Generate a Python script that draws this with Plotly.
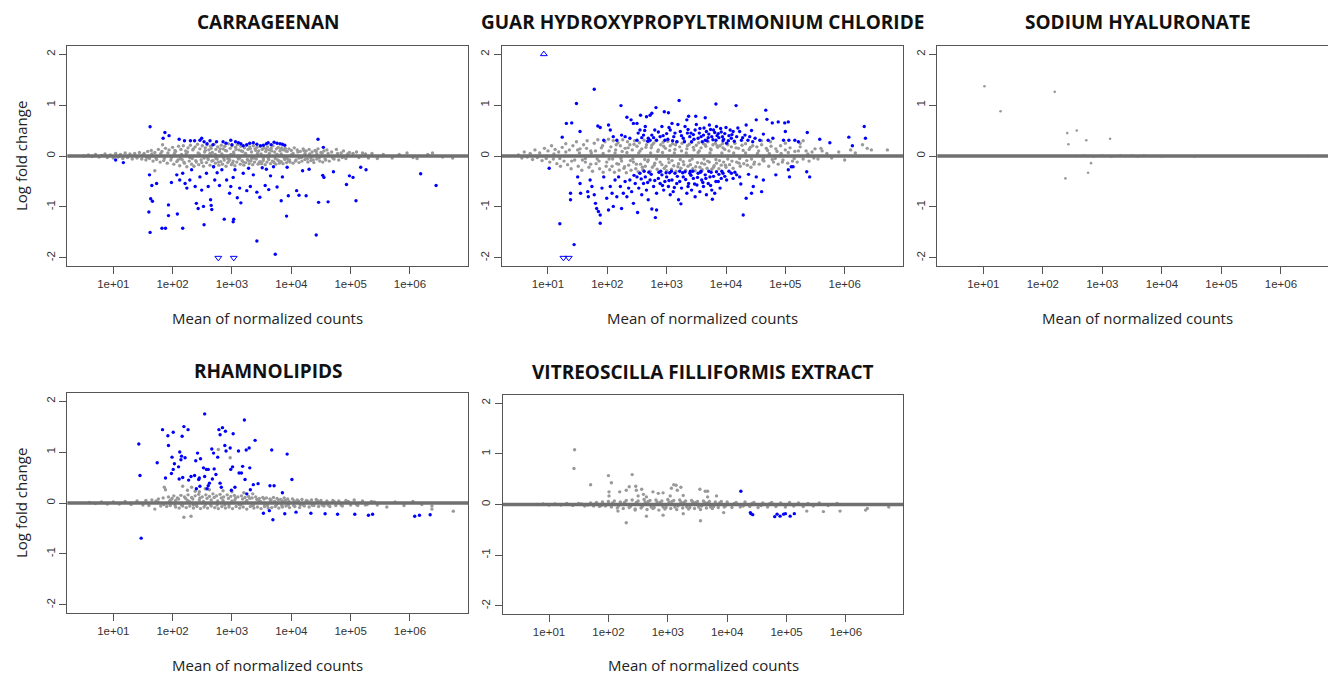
import plotly.graph_objects as go

# ---------------- DATA (log10 of mean of normalized counts, log fold change) ----------------
panel_titles = ["CARRAGEENAN", "GUAR HYDROXYPROPYLTRIMONIUM CHLORIDE", "SODIUM HYALURONATE",
                "RHAMNOLIPIDS", "VITREOSCILLA FILLIFORMIS EXTRACT"]
x_tick_values = [1e1, 1e2, 1e3, 1e4, 1e5, 1e6]
x_tick_labels = ["1e+01", "1e+02", "1e+03", "1e+04", "1e+05", "1e+06"]
y_tick_values = [-2, -1, 0, 1, 2]
y_tick_labels = ["-2", "-1", "0", "1", "2"]
x_axis_title = "Mean of normalized counts"
y_axis_title = "Log fold change"

carrageenan_gray = [
    (0.50, 0.00), (0.58, 0.02), (0.64, -0.01), (0.70, 0.03), (0.76, -0.02), (0.80, 0.01), (0.86, 0.04), (0.90, -0.03),
    (0.95, 0.02), (1.00, -0.04), (1.04, 0.05), (1.08, -0.02), (1.12, 0.03), (1.16, -0.05), (1.20, 0.06), (1.24, -0.03),
    (1.28, 0.04), (1.32, -0.06), (1.36, 0.05), (1.40, -0.04), (1.44, 0.07), (1.48, -0.06), (1.52, 0.05), (1.55, -0.08),
    (1.58, 0.09), (1.61, -0.05), (1.64, 0.11), (1.67, -0.10), (1.70, 0.07), (1.70, -0.29), (1.73, -0.07), (1.76, 0.13),
    (1.79, -0.12), (1.82, 0.09), (1.83, 0.22), (1.85, -0.09), (1.88, 0.15), (1.91, -0.14), (1.94, 0.12), (1.97, -0.08),
    (2.00, 0.17), (2.02, -0.16), (2.05, 0.09), (2.07, -0.11), (2.10, 0.19), (2.12, -0.19), (2.14, 0.13), (2.16, -0.07),
    (2.18, 0.20), (2.20, -0.14), (2.22, 0.10), (2.24, -0.21), (2.26, 0.16), (2.28, -0.10), (2.30, 0.21), (2.32, -0.16),
    (2.34, 0.12), (2.36, -0.20), (2.38, 0.18), (2.40, -0.12), (2.42, 0.23), (2.44, -0.17), (2.46, 0.14), (2.48, -0.08),
    (2.50, 0.20), (2.52, -0.20), (2.54, 0.08), (2.55, 0.16), (2.57, -0.13), (2.58, 0.22), (2.60, -0.07), (2.61, 0.12),
    (2.63, -0.18), (2.64, 0.19), (2.66, -0.10), (2.67, 0.07), (2.69, -0.21), (2.70, 0.23), (2.72, -0.14), (2.73, 0.13),
    (2.75, -0.06), (2.76, 0.18), (2.78, -0.18), (2.79, 0.09), (2.81, -0.11), (2.82, 0.21), (2.84, -0.16), (2.85, 0.14),
    (2.87, -0.08), (2.88, 0.19), (2.90, -0.20), (2.91, 0.10), (2.93, -0.13), (2.94, 0.24), (2.96, -0.07), (2.97, 0.15),
    (2.99, -0.17), (3.00, 0.20), (3.02, -0.10), (3.03, 0.08), (3.05, -0.19), (3.06, 0.17), (3.08, -0.12), (3.09, 0.22),
    (3.11, -0.06), (3.12, 0.12), (3.14, -0.16), (3.15, 0.19), (3.17, -0.09), (3.18, 0.09), (3.20, -0.18), (3.21, 0.16),
    (3.23, -0.13), (3.24, 0.21), (3.26, -0.07), (3.27, 0.13), (3.29, -0.15), (3.30, 0.18), (3.32, -0.10), (3.33, 0.08),
    (3.35, -0.17), (3.36, 0.20), (3.38, -0.12), (3.39, 0.14), (3.41, -0.06), (3.42, 0.17), (3.44, -0.16), (3.45, 0.10),
    (3.47, -0.11), (3.48, 0.19), (3.50, -0.15), (3.51, 0.13), (3.53, -0.08), (3.54, 0.16), (3.56, -0.17), (3.57, 0.09),
    (3.59, -0.12), (3.60, 0.18), (3.62, -0.07), (3.63, 0.12), (3.65, -0.15), (3.66, 0.15), (3.68, -0.10), (3.69, 0.20),
    (3.71, -0.13), (3.72, 0.08), (3.74, -0.16), (3.75, 0.14), (3.77, -0.08), (3.78, 0.17), (3.80, -0.14), (3.81, 0.10),
    (3.83, -0.11), (3.84, 0.16), (3.86, -0.15), (3.87, 0.12), (3.89, -0.07), (3.90, 0.15), (3.92, -0.13), (3.93, 0.09),
    (3.95, -0.10), (3.96, 0.14), (3.98, -0.12), (4.00, 0.11), (4.03, -0.14), (4.05, 0.16), (4.08, -0.08), (4.10, 0.12),
    (4.13, -0.13), (4.15, 0.09), (4.18, -0.10), (4.20, 0.14), (4.23, -0.07), (4.25, 0.10), (4.28, -0.12), (4.30, 0.13),
    (4.33, -0.09), (4.35, 0.08), (4.38, -0.13), (4.40, 0.11), (4.43, -0.06), (4.45, 0.14), (4.48, -0.10), (4.50, 0.07),
    (4.53, -0.12), (4.55, 0.10), (4.58, -0.08), (4.60, 0.12), (4.64, -0.10), (4.68, 0.08), (4.72, -0.06), (4.76, 0.13),
    (4.80, -0.08), (4.84, 0.06), (4.88, 0.10), (4.92, -0.05), (4.98, 0.07), (5.04, 0.05), (5.10, 0.08), (5.14, -0.03),
    (5.20, 0.06), (5.25, 0.04), (5.30, -0.04), (5.36, 0.05), (5.45, -0.05), (5.55, 0.03), (5.70, -0.04), (5.82, 0.03),
    (5.95, 0.06), (6.05, -0.03), (6.12, -0.05), (6.30, 0.03), (6.38, 0.06), (6.55, -0.02), (6.72, -0.04),
    (2.03, 0.05), (2.13, -0.05), (2.23, 0.05), (2.33, -0.05), (2.43, 0.06), (2.53, -0.04), (2.63, 0.05), (2.73, -0.05),
    (2.83, 0.04), (2.93, -0.05), (3.03, 0.05), (3.13, -0.04), (3.23, 0.05), (3.33, -0.05), (3.43, 0.05), (3.53, -0.04),
    (3.63, 0.05), (3.73, -0.05), (3.83, 0.04), (3.93, -0.05), (4.03, 0.05), (4.13, -0.04), (4.23, 0.05), (4.33, -0.04),
    (4.43, 0.04),
]
carrageenan_gray_band = [
    (1.92, 0.06), (1.98, -0.03), (2.04, 0.11), (2.09, -0.08), (2.15, 0.03), (2.19, -0.12), (2.25, 0.08), (2.29, -0.03),
    (2.35, 0.14), (2.39, -0.09), (2.45, 0.04), (2.49, -0.13), (2.55, 0.11), (2.59, -0.03), (2.65, 0.15), (2.68, -0.09),
    (2.72, 0.03), (2.77, -0.12), (2.80, 0.14), (2.86, -0.04), (2.89, 0.11), (2.95, -0.10), (2.98, 0.03), (3.01, -0.14),
    (3.07, 0.13), (3.10, -0.03), (3.16, 0.10), (3.19, -0.12), (3.22, 0.03), (3.28, -0.09), (3.31, 0.14), (3.37, -0.04),
    (3.40, 0.11), (3.46, -0.13), (3.49, 0.04), (3.52, -0.10), (3.58, 0.13), (3.61, -0.03), (3.67, 0.10), (3.70, -0.11),
    (3.76, 0.03), (3.79, -0.09), (3.82, 0.13), (3.88, -0.04), (3.91, 0.10), (3.97, -0.08), (4.01, 0.03), (4.07, -0.10),
    (4.11, 0.08), (4.17, -0.03), (4.21, 0.11), (4.27, -0.06), (4.31, 0.04), (4.37, -0.08), (4.42, 0.09), (4.47, -0.04),
    (4.52, 0.06), (4.57, -0.06), (4.62, 0.05), (4.70, -0.04), (4.78, 0.05), (4.86, -0.03), (4.95, 0.04), (1.50, 0.02),
    (1.57, -0.03), (1.65, 0.04), (1.72, -0.04), (1.80, 0.05), (1.86, -0.05),
]
carrageenan_blue = [
    (1.62, 0.575), (1.87, 0.46), (1.84, 0.35), (1.94, 0.40), (2.11, 0.33), (2.20, 0.30), (2.30, 0.30), (2.37, 0.30),
    (2.46, 0.31), (2.49, 0.35), (2.53, 0.28), (2.63, 0.30), (2.74, 0.28), (2.85, 0.28), (2.98, 0.31), (3.06, 0.28),
    (3.11, 0.26), (3.19, 0.20), (3.30, 0.25), (3.42, 0.23), (3.53, 0.21), (3.61, 0.26), (3.71, 0.27), (3.81, 0.24),
    (3.89, 0.21), (4.45, 0.33), (4.54, 0.17), (2.58, 0.24), (2.68, 0.22), (2.90, 0.25), (3.00, 0.22), (3.15, 0.24),
    (3.25, 0.22), (3.36, 0.26), (3.48, 0.20), (3.58, 0.24), (3.66, 0.22), (3.76, 0.25), (3.85, 0.23),
    (1.61, -0.37), (1.65, -0.58), (1.73, -0.54), (1.63, -0.84), (1.66, -0.89), (1.60, -1.10), (1.62, -1.50), (1.82, -1.42),
    (1.88, -1.42), (2.17, -1.42), (1.93, -0.96), (1.93, -1.17), (2.08, -1.14), (1.04, -0.08), (1.17, -0.13), (1.98, -0.52),
    (2.07, -0.37), (2.12, -0.47), (2.17, -0.34), (2.21, -0.54), (2.24, -0.63), (2.29, -0.47), (2.32, -0.27), (2.38, -0.60),
    (2.40, -0.93), (2.43, -1.03), (2.46, -0.41), (2.49, -0.67), (2.52, -0.99), (2.53, -1.35), (2.57, -0.34), (2.60, -0.60),
    (2.64, -0.86), (2.65, -0.97), (2.66, -1.05), (2.69, -0.21), (2.71, -0.47), (2.75, -0.33), (2.79, -0.58), (2.83, -0.27),
    (2.87, -1.24), (2.91, -0.47), (2.96, -0.73), (2.98, -0.60), (3.02, -0.42), (3.03, -1.24), (3.02, -1.29), (3.05, -0.27),
    (3.09, -0.82), (3.13, -0.63), (3.15, -0.92), (3.19, -0.34), (3.25, -0.68), (3.28, -0.24), (3.31, -0.60), (3.36, -0.37),
    (3.42, -0.71), (3.42, -1.67), (3.47, -0.81), (3.51, -0.23), (3.56, -0.58), (3.58, -0.26), (3.62, -0.66), (3.65, -0.39),
    (3.70, -0.21), (3.73, -1.93), (3.76, -0.61), (3.83, -0.88), (3.85, -0.41), (3.92, -1.18), (3.95, -0.78), (3.93, -0.22),
    (4.09, -0.68), (4.13, -0.77), (4.25, -0.78), (4.19, -0.29), (4.42, -1.55), (4.46, -0.91), (4.53, -0.38), (4.62, -0.90),
    (4.71, -0.31), (4.93, -0.56), (4.98, -0.39), (5.04, -0.42), (5.09, -0.88), (5.17, -0.22), (5.26, -0.27), (6.18, -0.35),
    (6.44, -0.58), (4.55, -0.42), (4.30, -0.26),
]
carrageenan_up = []
carrageenan_down = [(2.77, -2.0), (3.03, -2.0)]

guar_gray = [
    (0.50, 0.02), (0.56, -0.04), (0.60, 0.08), (0.65, -0.02), (0.70, 0.05), (0.74, -0.07), (0.78, 0.12), (0.82, -0.03),
    (0.86, 0.06), (0.90, -0.09), (0.94, 0.15), (0.97, -0.05), (1.00, 0.10), (1.03, -0.12), (1.06, 0.20), (1.09, -0.06),
    (1.12, 0.13), (1.15, -0.15), (1.18, 0.08), (1.21, -0.20), (1.24, 0.17), (1.27, -0.10), (1.30, 0.24), (1.33, -0.17),
    (1.36, 0.12), (1.39, -0.25), (1.42, 0.20), (1.45, -0.08), (1.48, 0.28), (1.51, -0.20), (1.54, 0.14), (1.57, -0.28),
    (1.60, 0.22), (1.63, -0.12), (1.66, 0.30), (1.69, -0.22), (1.72, 0.10), (1.75, -0.30), (1.78, 0.25), (1.81, -0.15),
    (1.84, 0.32), (1.87, -0.25), (1.90, 0.16), (1.93, -0.32), (1.96, 0.28), (1.99, -0.12),
    (2.02, 0.33), (2.04, -0.27), (2.06, 0.18), (2.08, -0.20), (2.10, 0.30), (2.12, -0.32), (2.14, 0.12), (2.16, -0.15),
    (2.18, 0.26), (2.20, -0.28), (2.22, 0.20), (2.24, -0.10), (2.26, 0.32), (2.28, -0.24), (2.30, 0.15), (2.32, -0.33),
    (2.34, 0.28), (2.36, -0.18), (2.38, 0.22), (2.40, -0.28), (2.42, 0.12), (2.44, -0.12), (2.46, 0.30), (2.48, -0.25),
    (2.50, 0.19), (2.52, -0.31), (2.54, 0.26), (2.56, -0.16), (2.58, 0.14), (2.60, -0.27), (2.62, 0.31), (2.64, -0.20),
    (2.66, 0.22), (2.68, -0.11), (2.70, 0.28), (2.72, -0.30), (2.74, 0.16), (2.76, -0.22), (2.78, 0.25), (2.80, -0.14),
    (2.82, 0.30), (2.84, -0.26), (2.86, 0.12), (2.88, -0.32), (2.90, 0.22), (2.92, -0.17), (2.94, 0.27), (2.96, -0.24),
    (2.98, 0.15), (3.00, -0.29), (3.02, 0.29), (3.04, -0.13), (3.06, 0.20), (3.08, -0.26), (3.10, 0.24), (3.12, -0.19),
    (3.14, 0.13), (3.16, -0.30), (3.18, 0.28), (3.20, -0.15), (3.22, 0.18), (3.24, -0.24), (3.26, 0.25), (3.28, -0.11),
    (3.30, 0.30), (3.32, -0.28), (3.34, 0.14), (3.36, -0.20), (3.38, 0.23), (3.40, -0.17), (3.42, 0.27), (3.44, -0.25),
    (3.46, 0.12), (3.48, -0.29), (3.50, 0.21), (3.52, -0.13), (3.54, 0.26), (3.56, -0.22), (3.58, 0.16), (3.60, -0.27),
    (3.62, 0.24), (3.64, -0.16), (3.66, 0.19), (3.68, -0.24), (3.70, 0.28), (3.72, -0.12), (3.74, 0.14), (3.76, -0.26),
    (3.78, 0.22), (3.80, -0.19), (3.82, 0.25), (3.84, -0.14), (3.86, 0.17), (3.88, -0.25), (3.90, 0.20), (3.92, -0.18),
    (3.94, 0.24), (3.96, -0.12), (3.98, 0.13), (4.00, -0.22), (4.03, 0.22), (4.06, -0.17), (4.09, 0.18), (4.12, -0.24),
    (4.15, 0.25), (4.18, -0.12), (4.21, 0.15), (4.24, -0.20), (4.27, 0.21), (4.30, -0.15), (4.33, 0.24), (4.36, -0.18),
    (4.39, 0.13), (4.42, -0.22), (4.45, 0.20), (4.48, -0.12),
    (4.52, 0.18), (4.56, -0.16), (4.60, 0.22), (4.64, -0.10), (4.68, 0.15), (4.72, -0.20), (4.76, 0.19), (4.80, -0.12),
    (4.84, 0.14), (4.88, -0.16), (4.92, 0.20), (4.96, -0.08), (5.00, 0.12), (5.04, -0.14), (5.08, 0.16), (5.12, -0.10),
    (5.16, 0.09), (5.20, -0.12), (5.25, 0.18), (5.30, -0.06), (5.35, 0.10), (5.40, -0.10), (5.45, 0.08), (5.50, 0.14),
    (4.60, 0.30), (4.75, 0.28), (5.00, 0.25), (5.25, 0.25), (5.30, 0.30), (5.60, 0.15),
    (5.55, -0.06), (5.62, 0.10), (5.70, 0.05), (5.78, -0.04), (5.90, 0.08), (6.00, -0.08), (6.10, 0.12), (6.18, 0.06),
    (6.30, 0.22), (6.38, 0.15), (6.45, 0.12), (6.72, 0.12),
    (1.53, 0.06), (1.63, -0.05), (1.73, 0.06), (1.83, -0.06), (1.93, 0.05), (2.03, -0.06), (2.13, 0.06), (2.23, -0.05),
    (2.33, 0.07), (2.43, -0.06), (2.53, 0.06), (2.63, -0.07), (2.73, 0.06), (2.83, -0.06), (2.93, 0.07), (3.03, -0.06),
    (3.13, 0.06), (3.23, -0.07), (3.33, 0.06), (3.43, -0.06), (3.53, 0.07), (3.63, -0.06), (3.73, 0.06), (3.83, -0.07),
    (3.93, 0.06), (4.03, -0.06), (4.13, 0.06), (4.23, -0.05), (4.33, 0.06), (4.43, -0.06), (4.53, 0.05), (4.63, -0.05),
    (4.73, 0.05), (4.83, -0.05), (4.93, 0.05),
]
guar_gray_band = [
    (1.10, 0.04), (1.20, -0.05), (1.30, 0.08), (1.40, -0.10), (1.50, 0.12), (1.58, -0.08), (1.65, 0.15), (1.72, -0.16),
    (1.80, 0.10), (1.86, -0.10), (1.92, 0.20), (1.98, -0.20), (2.03, 0.10), (2.09, -0.06), (2.15, 0.22), (2.19, -0.16),
    (2.25, 0.09), (2.29, -0.21), (2.35, 0.16), (2.39, -0.09), (2.45, 0.23), (2.49, -0.16), (2.55, 0.10), (2.59, -0.22),
    (2.65, 0.17), (2.69, -0.08), (2.75, 0.21), (2.79, -0.18), (2.85, 0.09), (2.89, -0.12), (2.95, 0.19), (2.99, -0.20),
    (3.05, 0.11), (3.09, -0.09), (3.15, 0.22), (3.19, -0.21), (3.25, 0.10), (3.29, -0.17), (3.35, 0.20), (3.39, -0.09),
    (3.45, 0.17), (3.49, -0.21), (3.55, 0.10), (3.59, -0.14), (3.65, 0.22), (3.69, -0.10), (3.75, 0.12), (3.79, -0.22),
    (3.85, 0.20), (3.89, -0.09), (3.95, 0.16), (3.99, -0.18), (4.05, 0.10), (4.10, -0.10), (4.17, 0.16), (4.22, -0.14),
    (4.29, 0.11), (4.35, -0.09), (4.41, 0.17), (4.47, -0.16), (4.55, 0.10), (4.62, -0.08), (4.70, 0.11), (4.78, -0.07),
    (4.86, 0.09), (4.95, -0.12), (5.05, 0.07), (5.15, -0.05), (5.22, 0.10), (5.38, 0.04), (5.48, -0.04),
]
guar_blue = [
    (1.78, 1.31), (1.48, 1.03), (1.31, 0.64), (1.40, 0.65), (1.24, 0.37), (1.54, 0.48), (1.84, 0.59), (1.88, 0.56),
    (2.02, 0.61), (2.05, 0.51), (2.10, 0.38), (2.23, 0.99), (2.33, 0.76), (2.40, 0.71), (2.44, 0.64), (2.50, 0.64),
    (2.56, 0.80), (2.66, 0.77), (2.72, 0.80), (2.75, 0.84), (2.82, 0.95), (2.96, 0.87), (3.03, 0.85), (3.21, 1.09),
    (3.37, 0.78), (3.49, 0.78), (3.65, 0.75), (3.83, 1.02), (4.17, 0.99), (4.34, 0.61), (4.51, 0.71), (4.67, 0.90),
    (4.69, 0.72), (4.78, 0.65), (4.88, 0.67), (4.99, 0.65), (5.05, 0.67), (5.00, 0.48), (4.97, 0.31), (5.06, 0.31),
    (5.16, 0.31), (5.22, 0.28), (5.37, 0.46), (5.58, 0.33), (5.75, 0.26), (6.07, 0.37), (6.13, 0.20), (6.33, 0.58),
    (6.35, 0.35),
    (2.38, 0.35), (2.50, 0.31), (2.61, 0.41), (2.69, 0.35), (2.75, 0.41), (2.80, 0.51), (2.83, 0.31), (2.89, 0.38),
    (2.92, 0.58), (2.97, 0.31), (3.00, 0.44), (3.06, 0.51), (3.09, 0.64), (3.12, 0.38), (3.17, 0.28), (3.23, 0.48),
    (3.28, 0.35), (3.31, 0.58), (3.34, 0.71), (3.39, 0.38), (3.42, 0.28), (3.48, 0.51), (3.53, 0.35), (3.56, 0.54),
    (3.62, 0.41), (3.65, 0.31), (3.67, 0.48), (3.72, 0.61), (3.76, 0.38), (3.79, 0.51), (3.83, 0.31), (3.87, 0.44),
    (3.91, 0.54), (3.94, 0.38), (3.98, 0.44), (4.01, 0.25), (4.07, 0.51), (4.09, 0.35), (4.12, 0.48), (4.18, 0.38),
    (4.23, 0.48), (4.26, 0.31), (4.32, 0.41), (4.37, 0.31), (4.43, 0.50), (4.49, 0.35), (4.57, 0.31), (4.63, 0.43),
    (4.71, 0.31), (4.79, 0.35), (1.94, 0.31), (2.16, 0.31), (2.24, 0.41), (2.30, 0.38), (2.55, 0.51), (2.64, 0.58),
    (2.72, 0.31), (3.45, 0.42), (3.60, 0.28), (3.70, 0.36), (3.85, 0.40), (3.95, 0.30), (4.05, 0.40), (3.35, 0.45),
    (1.02, -0.24), (1.20, -1.33), (1.38, -0.73), (1.38, -0.86), (1.44, -1.74), (1.50, -0.41), (1.54, -0.54), (1.55, -0.73),
    (1.67, -0.70), (1.68, -0.80), (1.71, -0.47), (1.74, -0.60), (1.78, -0.76), (1.80, -0.93), (1.82, -1.03), (1.85, -1.09),
    (1.88, -1.16), (1.88, -1.32), (1.91, -0.63), (1.94, -0.41), (1.99, -0.83), (2.02, -1.06), (2.05, -0.60), (2.08, -0.73),
    (2.10, -0.99), (2.13, -0.47), (2.16, -0.80), (2.19, -0.41), (2.22, -0.60), (2.24, -1.03), (2.27, -0.73), (2.30, -0.50),
    (2.33, -0.80), (2.36, -0.63), (2.38, -0.47), (2.41, -0.70), (2.44, -0.93), (2.47, -0.54), (2.50, -0.41), (2.51, -1.11),
    (2.53, -0.63), (2.55, -0.34), (2.58, -0.76), (2.61, -0.54), (2.64, -0.41), (2.66, -0.67), (2.69, -0.86), (2.72, -0.47),
    (2.75, -1.04), (2.78, -0.60), (2.81, -1.21), (2.83, -0.73), (2.83, -1.06), (2.86, -0.44), (2.89, -0.54), (2.92, -0.37),
    (2.95, -0.67), (2.97, -0.50), (3.00, -0.41), (3.03, -0.60), (3.06, -0.76), (3.09, -0.47), (3.11, -0.70), (3.14, -0.34),
    (3.17, -0.54), (3.20, -0.86), (3.24, -0.94), (3.25, -0.63), (3.28, -0.41), (3.31, -0.31), (3.34, -0.73), (3.37, -0.54),
    (3.39, -0.34), (3.42, -0.67), (3.45, -0.44), (3.48, -0.80), (3.51, -0.57), (3.53, -0.34), (3.56, -0.70), (3.59, -0.47),
    (3.62, -0.60), (3.65, -0.37), (3.67, -0.76), (3.70, -0.54), (3.73, -0.41), (3.76, -0.67), (3.77, -0.85), (3.81, -0.73),
    (3.84, -0.31), (3.87, -0.50), (3.90, -0.63), (3.95, -0.34), (4.01, -0.47), (4.09, -0.34), (4.12, -0.44), (4.18, -0.37),
    (4.23, -0.41), (4.29, -1.16), (4.34, -0.83), (4.43, -0.73), (4.46, -0.60), (4.51, -0.41), (4.60, -0.70), (4.63, -0.47),
    (4.84, -0.37), (5.05, -0.27), (5.07, -0.41), (5.10, -0.21), (5.13, -0.21), (5.36, -0.31), (5.41, -0.41),
    (2.70, -0.32), (2.90, -0.30), (3.05, -0.33), (3.22, -0.30), (3.40, -0.30), (3.58, -0.30), (3.75, -0.32), (3.92, -0.44),
]
guar_blue_dense = [
    (2.52, 0.45), (2.58, 0.36), (2.63, 0.50), (2.68, 0.29), (2.78, 0.36), (2.86, 0.47), (2.94, 0.40), (3.02, 0.33),
    (3.04, 0.56), (3.10, 0.30), (3.14, 0.45), (3.19, 0.62), (3.25, 0.40), (3.30, 0.28), (3.36, 0.52), (3.41, 0.45),
    (3.46, 0.33), (3.50, 0.62), (3.55, 0.45), (3.58, 0.38), (3.63, 0.55), (3.68, 0.30), (3.71, 0.43), (3.74, 0.52),
    (3.78, 0.32), (3.81, 0.46), (3.84, 0.58), (3.88, 0.36), (3.92, 0.47), (3.96, 0.33), (4.00, 0.56), (4.04, 0.30),
    (4.10, 0.42), (4.14, 0.29), (4.20, 0.55), (4.28, 0.36), (4.40, 0.38), (4.45, 0.28),
    (2.45, -0.38), (2.57, -0.45), (2.62, -0.30), (2.68, -0.52), (2.74, -0.36), (2.80, -0.48), (2.87, -0.32), (2.93, -0.58),
    (2.99, -0.33), (3.04, -0.48), (3.08, -0.30), (3.13, -0.62), (3.18, -0.40), (3.22, -0.50), (3.27, -0.33), (3.32, -0.46),
    (3.36, -0.60), (3.41, -0.38), (3.44, -0.30), (3.47, -0.55), (3.52, -0.42), (3.57, -0.32), (3.61, -0.52), (3.66, -0.44),
    (3.71, -0.30), (3.74, -0.58), (3.79, -0.40), (3.83, -0.50), (3.88, -0.36), (3.93, -0.30), (3.98, -0.40), (4.05, -0.30),
    (4.15, -0.32), (4.25, -0.55), (4.38, -0.36),
]
guar_up = [(0.93, 2.0)]
guar_down = [(1.26, -2.0), (1.35, -2.0)]

hyaluronate_gray = [
    (1.02, 1.37), (1.29, 0.88), (2.20, 1.26), (2.41, 0.45), (2.43, 0.23), (2.57, 0.50), (2.73, 0.31), (3.13, 0.34),
    (2.81, -0.14), (2.76, -0.33), (2.38, -0.44),
    (2.55, 0.00), (2.70, 0.01), (2.85, -0.01), (3.00, 0.01), (3.15, -0.01), (3.30, 0.01), (3.40, 0.00), (3.50, 0.01),
    (3.60, -0.01), (3.70, 0.01), (3.85, 0.00), (4.00, -0.01), (4.15, 0.00), (4.35, 0.00), (4.55, -0.01), (5.05, 0.00),
    (6.30, 0.00), (6.45, 0.00),
]
hyaluronate_gray_band = []
hyaluronate_blue = []
hyaluronate_up = []
hyaluronate_down = []

rhamnolipids_gray = [
    (0.60, 0.01), (0.70, -0.01), (0.80, 0.02), (0.90, -0.02), (1.00, 0.02), (1.10, -0.02), (1.20, 0.03), (1.30, -0.03),
    (1.40, 0.04), (1.50, -0.04), (1.55, 0.05), (1.60, -0.05), (1.65, 0.06), (1.70, -0.12), (1.72, 0.04), (1.76, 0.08),
    (1.80, -0.06), (1.84, 0.10), (1.86, 0.31), (1.88, 0.26), (1.90, -0.07), (1.93, 0.12), (1.96, -0.05), (1.99, 0.09),
    (2.02, 0.14), (2.05, -0.08), (2.08, 0.10), (2.11, -0.10), (2.14, 0.15), (2.17, 0.33), (2.17, -0.06), (2.19, -0.28),
    (2.20, 0.12), (2.23, -0.09), (2.26, 0.16), (2.29, -0.06), (2.31, -0.26), (2.32, 0.31), (2.32, 0.11), (2.35, -0.10),
    (2.38, 0.23), (2.38, 0.14), (2.41, -0.07), (2.44, 0.17), (2.47, -0.11), (2.50, 0.12), (2.53, -0.08), (2.56, 0.16),
    (2.59, -0.10), (2.62, 0.13), (2.65, -0.06), (2.68, 0.18), (2.71, -0.09), (2.74, 0.14), (2.77, 1.05), (2.77, -0.11),
    (2.80, 0.17), (2.83, -0.07), (2.86, 0.12), (2.89, -0.10), (2.92, 0.16), (2.95, -0.08), (2.97, 0.89), (2.98, 0.13),
    (3.01, -0.11), (3.04, 0.15), (3.07, -0.07), (3.10, 0.12), (3.13, -0.10), (3.16, 0.14), (3.19, -0.08), (3.22, 0.11),
    (3.25, -0.12), (3.28, 0.13), (3.31, -0.07), (3.34, 0.10), (3.37, -0.10), (3.40, 0.12), (3.43, -0.08), (3.46, 0.09),
    (3.49, -0.11), (3.52, 0.11), (3.55, -0.07), (3.58, 0.10), (3.61, -0.10), (3.64, 0.08), (3.67, -0.09), (3.70, 0.11),
    (3.73, -0.07), (3.76, 0.09), (3.79, -0.10), (3.82, 0.07), (3.85, -0.08), (3.88, 0.10), (3.91, -0.06), (3.94, 0.08),
    (3.97, -0.09), (4.02, 0.08), (4.06, -0.07), (4.10, 0.06), (4.14, -0.09), (4.18, 0.07), (4.22, -0.06), (4.26, 0.05),
    (4.30, -0.08), (4.34, 0.06), (4.38, -0.05), (4.42, 0.07), (4.46, -0.07), (4.50, 0.05), (4.55, -0.06), (4.60, 0.04),
    (4.65, -0.07), (4.70, 0.05), (4.75, -0.05), (4.80, 0.04), (4.86, -0.06), (4.92, 0.05), (5.00, -0.04), (5.06, 0.06),
    (5.12, -0.05), (5.20, 0.04), (5.28, -0.03), (5.35, 0.03), (5.45, -0.04), (5.61, -0.08), (5.75, 0.02), (5.90, -0.05),
    (6.05, 0.03), (6.20, -0.03), (6.37, -0.12), (6.37, -0.06), (6.73, -0.16),
    (1.95, 0.04), (2.05, 0.05), (2.15, -0.04), (2.25, 0.05), (2.35, -0.04), (2.45, 0.06), (2.55, -0.04), (2.65, 0.06),
    (2.75, -0.04), (2.85, 0.05), (2.95, -0.04), (3.05, 0.06), (3.15, -0.04), (3.25, 0.05), (3.35, -0.04), (3.45, 0.05),
    (3.55, -0.04), (3.65, 0.05), (3.75, -0.04), (3.85, 0.04), (3.95, -0.04), (4.05, 0.04), (4.15, -0.04), (4.25, 0.04),
    (4.35, -0.04), (4.45, 0.04), (4.55, -0.03),
]
rhamnolipids_gray_band = [
    (1.75, 0.02), (1.85, -0.03), (1.97, 0.06), (2.04, -0.04), (2.10, 0.08), (2.16, -0.03), (2.22, 0.09), (2.28, 0.03),
    (2.34, 0.08), (2.40, -0.04), (2.46, 0.10), (2.52, 0.03), (2.58, 0.09), (2.64, -0.03), (2.70, 0.11), (2.76, 0.04),
    (2.82, 0.10), (2.88, -0.04), (2.94, 0.09), (3.00, 0.04), (3.06, 0.10), (3.12, -0.03), (3.18, 0.08), (3.24, 0.03),
    (3.30, 0.09), (3.36, -0.05), (3.42, 0.07), (3.48, 0.03), (3.54, 0.08), (3.60, -0.05), (3.66, 0.06), (3.72, 0.03),
    (3.78, 0.06), (3.84, -0.05), (3.90, 0.05), (3.96, 0.03), (4.04, -0.05), (4.12, 0.04), (4.20, -0.04), (4.28, 0.03),
    (4.36, -0.04), (4.44, 0.03), (4.52, -0.04), (4.62, -0.04), (4.72, 0.03), (4.84, -0.04), (4.96, 0.03), (5.10, -0.03),
    (5.25, -0.04), (5.40, 0.02), (2.25, 0.25), (2.45, 0.22), (2.55, 0.28), (2.62, 0.26), (2.85, 0.24), (3.00, 0.22),
    (3.20, 0.20), (3.35, 0.18),
]
rhamnolipids_blue = [
    (1.43, 1.16), (1.45, 0.54), (1.47, -0.69), (1.74, 0.79), (1.83, 1.44), (1.88, 0.49), (1.92, 1.32), (1.93, 1.13),
    (1.98, 0.58), (1.99, 0.90), (2.01, 1.39), (2.01, 0.66), (2.03, 0.77), (2.10, 0.71), (2.11, 0.47), (2.12, 1.00),
    (2.14, 0.85), (2.15, 0.92), (2.16, 1.31), (2.17, 0.50), (2.19, 1.50), (2.21, 0.89), (2.26, 1.44), (2.31, 0.52),
    (2.37, 0.54), (2.39, 0.83), (2.42, 0.98), (2.44, 0.46), (2.45, 0.49), (2.46, 0.33), (2.47, 0.87), (2.54, 1.75),
    (2.52, 0.69), (2.54, 0.52), (2.57, 0.66), (2.60, 0.66), (2.62, 0.39), (2.60, 0.34), (2.66, 1.06), (2.67, 0.47),
    (2.69, 0.98), (2.70, 0.67), (2.73, 0.56), (2.76, 0.90), (2.78, 1.44), (2.80, 1.34), (2.80, 0.39), (2.82, 0.31),
    (2.84, 1.48), (2.88, 1.13), (2.89, 1.41), (2.90, 1.02), (2.97, 1.08), (2.98, 0.66), (3.01, 0.71), (3.02, 1.36),
    (2.99, 0.25), (3.05, 0.31), (3.11, 1.02), (3.12, 0.59), (3.16, 0.59), (3.18, 0.72), (3.21, 1.63), (3.24, 1.04),
    (3.22, 0.46), (3.25, 0.18), (3.29, 1.08), (3.30, 0.69), (3.31, 0.26), (3.36, 0.36), (3.39, 1.23), (3.44, 0.38),
    (3.53, -0.20), (3.63, -0.15), (3.64, 0.34), (3.67, 1.04), (3.71, 0.34), (3.69, -0.33), (3.85, 0.20), (3.89, -0.21),
    (3.93, 0.96), (4.01, 0.46), (4.08, -0.18), (4.33, -0.20), (4.57, -0.21), (4.78, -0.22), (5.07, -0.22), (5.30, -0.24),
    (5.37, -0.22), (6.08, -0.26), (6.16, -0.24), (6.34, -0.23), (2.27, 0.45), (2.40, 0.28), (2.58, 0.28),
]
rhamnolipids_up = []
rhamnolipids_down = []

vitreoscilla_gray = [
    (1.43, 1.08), (1.42, 0.71), (1.70, 0.39), (2.00, 0.57), (2.05, 0.43), (2.01, 0.25), (2.01, 0.17), (2.19, 0.25),
    (2.30, 0.28), (2.35, 0.35), (2.40, 0.59), (2.46, 0.36), (2.47, 0.28), (2.50, 0.17), (2.56, 0.30), (2.59, 0.20),
    (2.64, 0.15), (2.75, 0.25), (2.84, 0.22), (2.92, 0.23), (3.04, 0.17), (3.06, 0.32), (3.10, 0.39), (3.14, 0.38),
    (3.16, 0.28), (3.22, 0.34), (3.26, 0.18), (3.54, 0.30), (3.63, 0.26), (3.67, 0.26), (3.82, 0.17), (3.67, 0.15),
    (2.30, -0.36), (3.55, -0.32), (2.64, -0.23), (2.92, -0.21), (2.16, -0.13), (2.45, -0.11), (3.26, -0.18), (3.94, -0.16),
    (5.34, -0.13), (5.62, -0.14), (5.90, -0.13), (6.33, -0.11), (6.36, -0.08), (6.72, -0.05),
    (0.80, 0.00), (0.90, 0.01), (1.00, -0.01), (1.10, 0.01), (1.20, -0.01), (1.30, 0.02), (1.40, -0.02), (1.50, 0.02),
    (1.60, -0.03), (1.70, 0.03), (1.75, -0.03), (1.80, 0.04), (1.85, -0.04), (1.90, 0.05), (1.95, -0.03),
    (2.00, 0.06), (2.05, -0.05), (2.10, 0.07), (2.15, -0.07), (2.20, 0.05), (2.25, -0.08), (2.30, 0.08), (2.35, -0.06),
    (2.40, 0.09), (2.45, -0.09), (2.50, 0.07), (2.55, -0.07), (2.60, 0.10), (2.65, -0.10), (2.70, 0.08), (2.75, -0.08),
    (2.80, 0.09), (2.85, -0.11), (2.90, 0.07), (2.95, -0.09), (3.00, 0.10), (3.05, -0.08), (3.10, 0.08), (3.15, -0.10),
    (3.20, 0.09), (3.25, -0.07), (3.30, 0.07), (3.35, -0.09), (3.40, 0.08), (3.45, -0.08), (3.50, 0.06), (3.55, -0.10),
    (3.60, 0.07), (3.65, -0.07), (3.70, 0.06), (3.75, -0.08), (3.80, 0.05), (3.85, -0.06), (3.90, 0.06), (3.95, -0.05),
    (2.62, 0.05), (2.72, -0.05), (2.82, 0.05), (2.92, -0.05), (3.02, 0.05), (3.12, -0.05), (3.22, 0.05), (3.32, -0.05),
    (3.42, 0.05), (3.52, -0.05), (3.62, 0.04), (3.72, -0.05),
    (4.00, 0.05), (4.08, -0.06), (4.15, 0.04), (4.22, -0.05), (4.30, 0.05), (4.38, -0.04), (4.45, 0.04), (4.52, -0.06),
    (4.60, 0.03), (4.68, -0.05), (4.75, 0.04), (4.82, -0.04), (4.90, 0.03), (4.98, -0.05), (5.05, 0.04), (5.12, -0.03),
    (5.20, 0.03), (5.28, -0.04), (5.36, 0.02), (5.45, -0.03), (5.55, 0.03), (5.70, -0.02), (5.85, 0.02),
]
vitreoscilla_gray_band = [
    (2.07, 0.03), (2.17, -0.03), (2.27, 0.04), (2.37, -0.04), (2.47, 0.04), (2.57, -0.04), (2.67, 0.06), (2.77, -0.06),
    (2.87, 0.04), (2.97, -0.06), (3.07, 0.06), (3.17, -0.03), (3.27, 0.04), (3.37, -0.06), (3.47, 0.04), (3.57, -0.03),
    (3.67, 0.03), (3.77, -0.04), (3.87, 0.03), (3.97, -0.03), (4.12, 0.02), (4.27, -0.03), (4.42, 0.02), (4.57, -0.02),
    (4.72, 0.02), (1.55, 0.01), (1.65, -0.01), (1.78, 0.01), (1.88, -0.02),
]
vitreoscilla_blue = [
    (4.23, 0.26), (4.39, -0.16), (4.40, -0.18), (4.43, -0.20), (4.80, -0.24), (4.84, -0.19), (4.89, -0.23), (4.95, -0.19),
    (4.98, -0.18), (5.06, -0.23), (5.13, -0.18),
]
vitreoscilla_up = []
vitreoscilla_down = []

panels = [
    (carrageenan_gray + carrageenan_gray_band, carrageenan_blue, carrageenan_up, carrageenan_down),
    (guar_gray + guar_gray_band, guar_blue + guar_blue_dense, guar_up, guar_down),
    (hyaluronate_gray + hyaluronate_gray_band, hyaluronate_blue, hyaluronate_up, hyaluronate_down),
    (rhamnolipids_gray + rhamnolipids_gray_band, rhamnolipids_blue, rhamnolipids_up, rhamnolipids_down),
    (vitreoscilla_gray + vitreoscilla_gray_band, vitreoscilla_blue, vitreoscilla_up, vitreoscilla_down),
]

# ---------------- LAYOUT (pixels) ----------------
W, H = 1328, 674
# (left, right, top, bottom) of each plot box in pixels, x log-range
boxes = [
    (67.3, 468.3, 46, 266, (0.225, 6.983)),
    (502.0, 903.0, 46, 266, (0.225, 6.983)),
    (937.3, 1328.0, 46, 266, (0.2275, 6.79)),
    (67.3, 468.3, 393, 613, (0.225, 6.983)),
    (503.0, 903.0, 395, 614, (0.225, 6.960)),
]
title_y_px = [22, 22, 22, 371, 372]
xtitle_y_px = [318, 318, 318, 665, 665]

GRAY = "#999999"
BLUE = "#0000FF"
AXIS = "#555555"

fig = go.Figure()
layout = dict(width=W, height=H, margin=dict(l=0, r=0, t=0, b=0), showlegend=False,
              plot_bgcolor="white", paper_bgcolor="white")
annotations = []
shapes = []


def xs(points):
    return [10 ** p[0] for p in points]


def ys(points):
    return [p[1] for p in points]


for i, ((gray, blue, up, down), (l, r, t, b, xr)) in enumerate(zip(panels, boxes)):
    n = i + 1
    xa = "x" if n == 1 else f"x{n}"
    ya = "y" if n == 1 else f"y{n}"
    gsize = 2.6 if n == 3 else 3.4
    fig.add_trace(go.Scatter(x=xs(gray), y=ys(gray), mode="markers", xaxis=xa, yaxis=ya,
                             marker=dict(color=GRAY, size=gsize, line=dict(width=0)), hoverinfo="skip"))
    if blue:
        fig.add_trace(go.Scatter(x=xs(blue), y=ys(blue), mode="markers", xaxis=xa, yaxis=ya,
                                 marker=dict(color=BLUE, size=3.4, line=dict(width=0)), hoverinfo="skip"))
    if up:
        fig.add_trace(go.Scatter(x=xs(up), y=ys(up), mode="markers", xaxis=xa, yaxis=ya,
                                 marker=dict(color=BLUE, size=6, symbol="triangle-up-open", line=dict(width=1)),
                                 hoverinfo="skip"))
    if down:
        fig.add_trace(go.Scatter(x=xs(down), y=ys(down), mode="markers", xaxis=xa, yaxis=ya,
                                 marker=dict(color=BLUE, size=6, symbol="triangle-down-open", line=dict(width=1)),
                                 hoverinfo="skip"))

    kx = "xaxis" if n == 1 else f"xaxis{n}"
    ky = "yaxis" if n == 1 else f"yaxis{n}"
    layout[kx] = dict(domain=[l / W, min(r / W, 1.0)], type="log", range=list(xr), anchor=ya,
                      tickvals=x_tick_values, ticktext=x_tick_labels, ticks="outside", ticklen=7,
                      tickcolor=AXIS, tickwidth=1, showline=True, linecolor=AXIS, linewidth=1.4,
                      mirror=True, showgrid=False, zeroline=False,
                      tickfont=dict(family="Liberation Sans, Arial", size=11.5, color="#333333"))
    layout[ky] = dict(domain=[1 - b / H, 1 - t / H], range=[-2.16, 2.16], anchor=xa,
                      tickvals=y_tick_values, ticktext=y_tick_labels, ticks="outside", ticklen=7,
                      tickcolor=AXIS, tickwidth=1, showline=True, linecolor=AXIS, linewidth=1.4,
                      mirror=(n != 3), showgrid=False, zeroline=False, tickangle=-90,
                      tickfont=dict(family="Liberation Sans, Arial", size=11.5, color="#333333"))
    # thick horizontal line at log fold change 0
    shapes.append(dict(type="line", xref=f"{xa} domain", yref=ya, x0=0, x1=1, y0=0, y1=0,
                       line=dict(color="#707070", width=3.5), layer="above"))
    cx = ((l + r) / 2) / W if n != 3 else 1137.5 / W
    annotations.append(dict(text=f"<b>{panel_titles[i]}</b>", x=cx, y=1 - title_y_px[i] / H,
                            xref="paper", yref="paper", showarrow=False, xanchor="center", yanchor="middle",
                            font=dict(family="Open Sans", size=19, color="#111111")))
    annotations.append(dict(text=x_axis_title, x=cx, y=1 - xtitle_y_px[i] / H,
                            xref="paper", yref="paper", showarrow=False, xanchor="center", yanchor="middle",
                            font=dict(family="Open Sans", size=15, color="#222222")))

for yc in (156, 503):
    annotations.append(dict(text=y_axis_title, x=21 / W, y=1 - yc / H, xref="paper", yref="paper",
                            showarrow=False, textangle=-90, xanchor="center", yanchor="middle",
                            font=dict(family="Open Sans", size=15, color="#222222")))

layout["annotations"] = annotations
layout["shapes"] = shapes
fig.update_layout(**layout)
fig.write_html("out.html")
